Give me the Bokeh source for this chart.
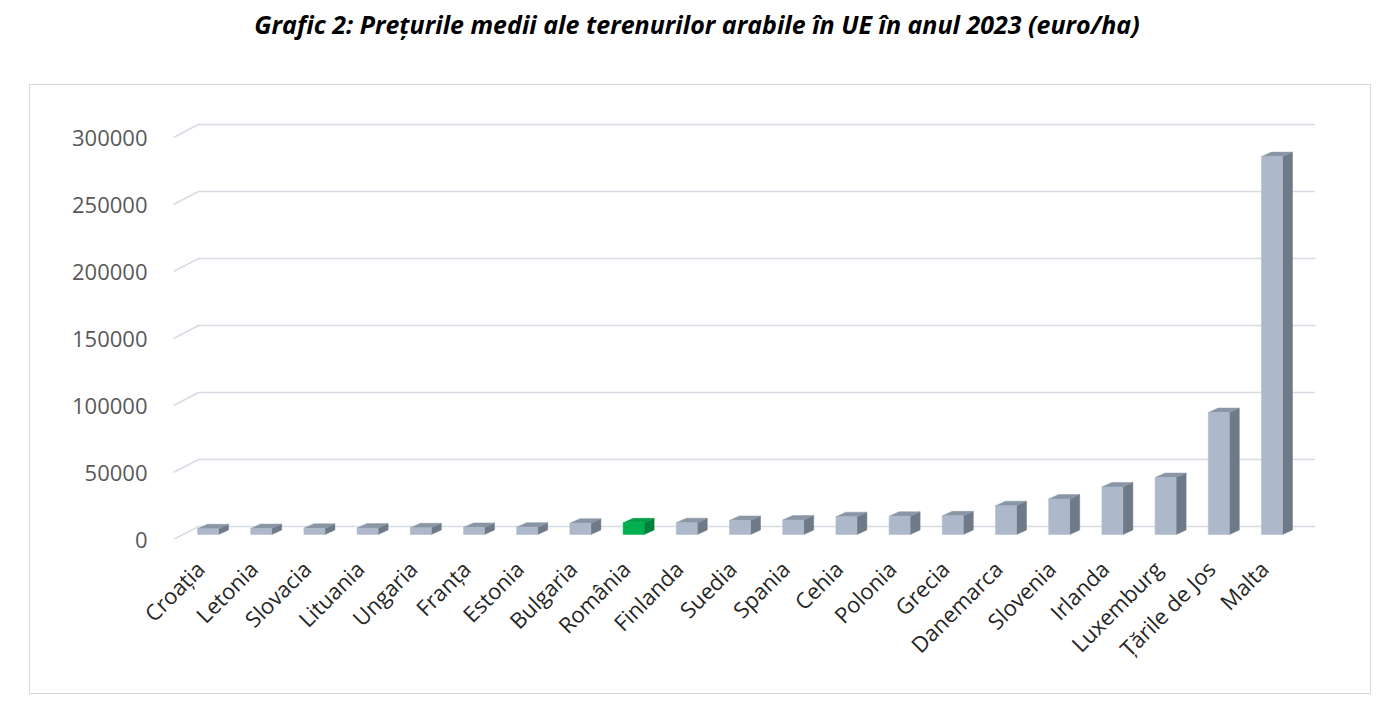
import math
from bokeh.plotting import figure
from bokeh.models import Range1d, FixedTicker, Div, NumeralTickFormatter
from bokeh.layouts import column
from bokeh.embed import file_html
from bokeh.resources import INLINE

# ---------------- data ----------------
title_text = "Grafic 2: Prețurile medii ale terenurilor arabile în UE în anul 2023 (euro/ha)"
countries = ["Croația", "Letonia", "Slovacia", "Lituania", "Ungaria", "Franța", "Estonia",
             "Bulgaria", "România", "Finlanda", "Suedia", "Spania", "Cehia", "Polonia",
             "Grecia", "Danemarca", "Slovenia", "Irlanda", "Luxemburg", "Țările de Jos", "Malta"]
prices = [4300, 4400, 4600, 4800, 5000, 5300, 5500,
          8400, 8700, 8800, 10500, 10800, 13300, 13600,
          13900, 21500, 26500, 35500, 42500, 91000, 282000]
highlight = "România"
y_ticks = [0, 50000, 100000, 150000, 200000, 250000, 300000]

# ---------------- geometry / style ----------------
FRAME_W, FRAME_H = 1142, 428
PX_PER_CAT = 53.2
Y_PER_PX = 300000 / 402.0
X_START = -0.5
X_END = X_START + FRAME_W / PX_PER_CAT
Y_END = FRAME_H * Y_PER_PX

WALL_DX = 25 / PX_PER_CAT
WALL_DY = 13 * Y_PER_PX
BAR_W = 21 / PX_PER_CAT
BAR_X0 = 7.9 / PX_PER_CAT
BAR_Y0 = 5 * Y_PER_PX
BAR_DX = 10 / PX_PER_CAT
BAR_DY = 4.5 * Y_PER_PX

GRID_COLOR = "#D6DCE4"
FRONT, SIDE, TOP = "#ADB9CA", "#6F7A88", "#8A96A6"
FRONT_H, SIDE_H, TOP_H = "#00B050", "#00803A", "#00A046"

p = figure(width=1340, height=608, output_backend="svg", toolbar_location=None,
           x_range=Range1d(X_START, X_END), y_range=Range1d(0, Y_END),
           min_border_left=143, min_border_right=55, min_border_top=26, min_border_bottom=154)
p.margin = (0, 0, 0, 30)
p.styles = {"outline": "1px solid #D9D9D9"}
p.outline_line_color = None
p.xgrid.visible = False
p.ygrid.visible = False

# back-wall gridlines with the floor/left-wall diagonal
gx = [[X_START, X_START + WALL_DX, X_END] for _ in y_ticks]
gy = [[v, v + WALL_DY, v + WALL_DY] for v in y_ticks]
p.multi_line(gx, gy, line_color=GRID_COLOR, line_width=1.6)

# 3D bars
fl, fr, fb, ft, fc = [], [], [], [], []
sxs, sys_, sc = [], [], []
txs, tys, tc = [], [], []
for i, (name, v) in enumerate(zip(countries, prices)):
    hl = name == highlight
    left = i + BAR_X0 - BAR_W / 2
    right = i + BAR_X0 + BAR_W / 2
    bot = BAR_Y0
    top = v + BAR_Y0
    fl.append(left); fr.append(right); fb.append(bot); ft.append(top)
    fc.append(FRONT_H if hl else FRONT)
    sxs.append([right, right + BAR_DX, right + BAR_DX, right])
    sys_.append([bot, bot + BAR_DY, top + BAR_DY, top])
    sc.append(SIDE_H if hl else SIDE)
    txs.append([left, right, right + BAR_DX, left + BAR_DX])
    tys.append([top, top, top + BAR_DY, top + BAR_DY])
    tc.append(TOP_H if hl else TOP)

p.patches(sxs, sys_, fill_color=sc, line_color=sc, line_width=0.5)
p.patches(txs, tys, fill_color=tc, line_color=tc, line_width=0.5)
p.quad(left=fl, right=fr, bottom=fb, top=ft, fill_color=fc, line_color=fc, line_width=0.5)

# axes
p.yaxis.ticker = FixedTicker(ticks=y_ticks)
p.yaxis.formatter = NumeralTickFormatter(format="0")
p.yaxis.axis_line_color = None
p.yaxis.major_tick_line_color = None
p.yaxis.minor_tick_line_color = None
p.yaxis.major_label_standoff = 20
p.yaxis.major_label_text_font = "Open Sans"
p.yaxis.major_label_text_font_size = "22px"
p.yaxis.major_label_text_color = "#595959"

p.xaxis.ticker = FixedTicker(ticks=list(range(len(countries))))
p.xaxis.major_label_overrides = {i: c for i, c in enumerate(countries)}
p.xaxis.major_label_orientation = math.pi / 4
p.xaxis.axis_line_color = None
p.xaxis.major_tick_line_color = None
p.xaxis.minor_tick_line_color = None
p.xaxis.major_label_standoff = 19
p.xaxis.major_label_text_font = "Open Sans"
p.xaxis.major_label_text_font_size = "22px"
p.xaxis.major_label_text_color = "#262626"

title = Div(text=title_text, width=1384, height=75,
            styles={"font-family": "Open Sans", "font-weight": "bold", "font-style": "italic",
                    "font-size": "25px", "color": "#000000", "text-align": "center",
                    "width": "1384px", "padding-top": "2px"})

layout = column(title, p)
open("out.html", "w").write(file_html(layout, INLINE))
